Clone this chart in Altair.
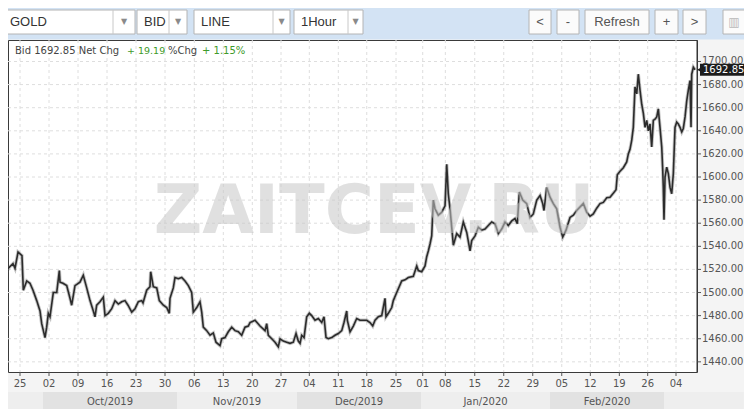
import altair as alt
import pandas as pd

# ---------------- data (trading-day index, bid price) ----------------
SEP_OCT_DAY = [-2.59, -2.41, -2.02, -1.21, -0.86, -0.34, 0.34, 0.57, 1.16, 1.72, 2.24, 2.88, 3.45, 3.74, 4.31,
               4.60, 4.88, 5.17, 5.74, 6.33, 6.78, 6.90, 7.41, 8.05, 8.62, 8.91, 9.48, 10.34, 10.91, 11.50,
               12.07, 12.64, 12.93, 13.22, 13.79, 14.36, 14.66, 15.22, 15.81, 16.38, 16.95, 17.53, 18.10,
               18.62, 19.26, 19.83, 20.40, 20.98, 21.21, 21.84, 22.41, 22.53, 22.98, 23.57, 24.02, 24.71,
               25.29, 25.74, 25.86, 26.43, 26.72]
SEP_OCT_BID = [1500, 1516, 1521, 1525, 1521, 1535, 1532, 1502, 1510, 1508, 1502, 1493, 1484, 1473, 1461,
               1470, 1482, 1479, 1500, 1500, 1519, 1509, 1508, 1506, 1495, 1489, 1506, 1509, 1515, 1504,
               1493, 1484, 1479, 1489, 1492, 1496, 1480, 1482, 1486, 1493, 1490, 1492, 1493,
               1489, 1483, 1486, 1492, 1493, 1491, 1502, 1505, 1518, 1505, 1504, 1493, 1489,
               1487, 1482, 1495, 1504, 1513]

NOV_DAY = [27.29, 27.88, 28.45, 29.02, 29.60, 29.88, 30.47, 31.03, 31.33, 31.60, 32.19, 32.76, 33.33, 33.79,
           34.48, 34.78, 35.34, 35.91, 36.50, 37.07, 37.64, 38.22, 38.79, 39.36, 39.66, 40.52, 41.38, 42.24,
           42.53, 42.81, 43.40, 43.97, 44.53, 44.83, 45.40, 45.98, 46.55, 47.12, 47.59]
NOV_BID = [1512, 1513, 1510, 1506, 1500, 1483, 1487, 1492, 1483, 1470, 1467, 1463, 1465, 1457,
           1454, 1460, 1461, 1466, 1470, 1467, 1466, 1463, 1470, 1471, 1474, 1476, 1471, 1467,
           1473, 1463, 1460, 1457, 1453, 1460, 1458, 1457, 1456, 1457, 1464.5]

DEC_DAY = [47.98, 48.28, 48.57, 48.97, 49.43, 49.88, 50.29, 50.86, 51.43, 52.02, 52.41, 52.76, 53.16, 53.74,
           54.31, 54.88, 55.47, 55.86, 56.33, 56.43, 56.90, 57.47, 58.05, 58.62, 59.19, 59.78, 60.34, 60.81,
           61.21, 61.78, 62.36, 62.93, 63.10, 63.50, 64.09, 64.36, 64.95, 65.81, 66.38, 66.95, 67.81, 68.40,
           68.67, 69.26, 69.83, 70.12, 70.40]
DEC_BID = [1458, 1456, 1463, 1461, 1479, 1482, 1480, 1476, 1477.5, 1474, 1479, 1461, 1460, 1461,
           1463, 1464.5, 1467, 1474, 1484, 1476, 1466, 1471, 1477.5, 1476, 1476, 1476, 1474, 1471,
           1476, 1479, 1480, 1495, 1479, 1482, 1487, 1493, 1500, 1510, 1511, 1513, 1514, 1523,
           1519, 1518, 1523, 1531, 1536]

JAN_DAY = [70.69, 70.98, 71.26, 71.55, 72.12, 72.71, 73.28, 73.57, 73.84, 74.14, 74.43, 74.71, 75.29, 75.86,
           76.43, 77.02, 77.59, 77.88, 78.45, 79.02, 79.60, 80.17, 80.74, 81.33, 81.90, 82.47, 83.05, 83.62,
           84.19, 84.78, 85.34, 85.74, 86.09, 86.67, 87.36, 87.93, 88.50, 89.09, 89.66, 90.12, 90.34, 90.81]
JAN_BID = [1542, 1549, 1580, 1572.5, 1567, 1569.5, 1575, 1611, 1585.5, 1572.5, 1556.5, 1541, 1551, 1548,
           1561, 1552, 1536, 1545, 1549, 1556.5, 1554, 1555, 1558, 1561, 1559.5, 1551, 1555, 1561,
           1558, 1562, 1564, 1559.5, 1587, 1580, 1577, 1565, 1568, 1580, 1584, 1577, 1571, 1591]

FEB_DAY = [91.38, 91.95, 92.53, 93.10, 93.57, 94.14, 94.83, 95.40, 95.98, 96.55, 97.12, 97.71, 98.28, 98.84,
           99.43, 100.00, 100.57, 101.16, 101.72, 102.29, 102.76, 102.98, 103.45, 104.02, 104.60, 104.88, 105.17]
FEB_BID = [1582.5, 1577, 1572.5, 1556.5, 1548, 1554, 1565, 1567, 1571, 1574, 1577, 1569.5, 1566, 1568,
           1573, 1577, 1578, 1582, 1582.5, 1586, 1589, 1602, 1605, 1608, 1613, 1620, 1624]

MAR_DAY = [105.47, 105.74, 106.03, 106.33, 106.60, 106.90, 107.19, 107.47, 107.76, 108.05, 108.33, 108.62,
           108.91, 109.19, 109.48, 109.78, 110.05, 110.34, 110.64, 110.81, 110.91, 111.03, 111.21, 111.50,
           111.78, 112.07, 112.36, 112.64, 112.93, 113.22, 113.50, 113.79, 114.09, 114.36, 114.66, 114.95,
           115.22, 115.52, 115.69, 115.81, 116.09, 116.38]
MAR_BID = [1632, 1643, 1678, 1672, 1689, 1675, 1663, 1655, 1643, 1649, 1640, 1646,
           1626, 1649, 1650, 1652, 1659, 1643, 1626, 1606, 1591, 1563, 1600, 1608.5,
           1603, 1591, 1585.5, 1603, 1643, 1647.5, 1646, 1643, 1639, 1642, 1652, 1666,
           1675, 1683.5, 1643, 1689, 1695, 1692.85]

TICK_DAY = [0, 5, 10, 15, 20, 25, 30.05, 35.05, 40.05, 45, 49.88, 54.88, 59.78, 64.83, 69.43, 73.33,
            78.4, 83.4, 88.4, 93.4, 98.33, 103.33, 108.22, 113.1]
TICK_LABEL = ["25", "02", "09", "16", "23", "30", "06", "13", "20", "27", "04", "11", "18", "25", "01", "08",
              "15", "22", "29", "05", "12", "19", "26", "04"]

MONTH_START = [-2.3, 3.97, 27.07, 47.76, 69.14, 91.38, 111.03]
MONTH_END = [3.97, 27.07, 47.76, 69.14, 91.38, 111.03, 124.8]
MONTH_LABEL = ["", "Oct/2019", "Nov/2019", "Dec/2019", "Jan/2020", "Feb/2020", ""]
MONTH_SHADE = ["light", "dark", "light", "dark", "light", "dark", "light"]

Y_TICKS = [1440, 1460, 1480, 1500, 1520, 1540, 1560, 1580, 1600, 1620, 1640, 1660, 1680, 1700]

LAST_BID = 1692.85
NET_CHG = 19.19
PCT_CHG = 1.15

# ---------------- frames ----------------
days = SEP_OCT_DAY + NOV_DAY + DEC_DAY + JAN_DAY + FEB_DAY + MAR_DAY
bids = SEP_OCT_BID + NOV_BID + DEC_BID + JAN_BID + FEB_BID + MAR_BID
df = pd.DataFrame({"day": days, "bid": bids})
months = pd.DataFrame({"start": MONTH_START, "end": MONTH_END, "label": MONTH_LABEL, "shade": MONTH_SHADE})
xticks = pd.DataFrame({"day": TICK_DAY, "label": TICK_LABEL})
yticks = pd.DataFrame({"bid": Y_TICKS})
last = pd.DataFrame({"bid": [LAST_BID]})
ONE = pd.DataFrame({"k": [0]})

W, H = 689, 332
xs = alt.Scale(domain=[-2.07, 116.72], nice=False, zero=False)
ys = alt.Scale(domain=[1431.2, 1718.6], nice=False, zero=False)

AX_FONT = "DejaVu Sans"
UI_FONT = "Liberation Sans"
GRID = "#dedede"
TICKC = "#555555"


def X(field):
    return alt.X(field, scale=xs, axis=None)


def Y(field):
    return alt.Y(field, scale=ys, axis=None)


# grid
xgrid = alt.Chart(xticks).mark_rule(color=GRID, strokeDash=[3, 3], strokeWidth=1).encode(
    x=X("day:Q"), y=alt.value(0), y2=alt.value(H))
ygrid = alt.Chart(yticks).mark_rule(color=GRID, strokeDash=[3, 3], strokeWidth=1).encode(
    y=Y("bid:Q"), x=alt.value(0), x2=alt.value(W))

# axis ticks and labels
xtick = alt.Chart(xticks).mark_rule(color=TICKC, strokeWidth=1).encode(
    x=X("day:Q"), y=alt.value(H), y2=alt.value(H + 4))
xlab = alt.Chart(xticks).mark_text(font=AX_FONT, fontSize=10, color=TICKC, baseline="middle").encode(
    x=X("day:Q"), y=alt.value(H + 12), text="label:N")
ytick = alt.Chart(yticks).mark_rule(color=TICKC, strokeWidth=1).encode(
    y=Y("bid:Q"), x=alt.value(W), x2=alt.value(W + 4))
ylab = alt.Chart(yticks).mark_text(font=AX_FONT, fontSize=10, color=TICKC, baseline="middle",
                                   align="left").encode(
    y=Y("bid:Q"), x=alt.value(W + 5), text=alt.Text("bid:Q", format=".2f"))
ydomain = alt.Chart(ONE).mark_rule(color="#333333", strokeWidth=1).encode(
    x=alt.value(W), y=alt.value(0), y2=alt.value(H))

# price line: soft halo + dark core to mimic the dense hourly trace
halo = alt.Chart(df).mark_line(color="#555555", strokeWidth=3.4, opacity=0.35, clip=True).encode(
    x=X("day:Q"), y=Y("bid:Q"))
line = alt.Chart(df).mark_line(color="#2b2b2b", strokeWidth=1.6, clip=True).encode(
    x=X("day:Q"), y=Y("bid:Q"))

watermark = alt.Chart(ONE).mark_text(
    text="ZAITCEV.RU", font="DejaVu Sans", fontWeight="bold", fontSize=67,
    color="#c8c8c8", opacity=0.55, align="center", baseline="alphabetic"
).encode(x=alt.value(366), y=alt.value(193))

bands = alt.Chart(months).mark_rect().encode(
    x=X("start:Q"), x2="end:Q",
    y=alt.value(H + 20), y2=alt.value(H + 38),
    color=alt.Color("shade:N", scale=alt.Scale(domain=["light", "dark"], range=["#eeeeee", "#e2e2e2"]),
                    legend=None),
)
band_text = alt.Chart(months).transform_filter("datum.label != ''").transform_calculate(
    mid="(datum.start + datum.end) / 2"
).mark_text(font=AX_FONT, fontSize=10, color="#555555", baseline="middle").encode(
    x=X("mid:Q"), y=alt.value(H + 30), text="label:N")

tag = alt.Chart(last).mark_rule(color="#1c1c1c", strokeWidth=12, strokeCap="butt").encode(
    x=alt.value(692), x2=alt.value(760), y=Y("bid:Q"))
tag_arrow = alt.Chart(last).mark_point(shape="triangle-left", filled=True, size=45, color="#1c1c1c",
                                        opacity=1).encode(x=alt.value(692), y=Y("bid:Q"))
tag_text = alt.Chart(last).mark_text(font=AX_FONT, fontSize=10, color="white", align="left",
                                     baseline="middle").encode(
    x=alt.value(695), y=Y("bid:Q"), text=alt.Text("bid:Q", format=".2f"))


def txt(s, x, y, size, color, font=AX_FONT, align="left"):
    return alt.Chart(ONE).mark_text(text=s, font=font, fontSize=size, color=color, align=align,
                                    baseline="middle").encode(x=alt.value(x), y=alt.value(y))


def box(x1, x2, y1, y2, fill, stroke):
    return alt.Chart(ONE).mark_rect(fill=fill, stroke=stroke, strokeWidth=1).encode(
        x=alt.value(x1), x2=alt.value(x2), y=alt.value(y1), y2=alt.value(y2))


def vline(x, y1, y2, color):
    return alt.Chart(ONE).mark_rule(color=color, strokeWidth=1).encode(
        x=alt.value(x), y=alt.value(y1), y2=alt.value(y2))


# info line in the plot
info = [
    txt(f"Bid {LAST_BID:.2f} Net Chg", 7, 11, 10, "#444444"),
    txt(f"+ {NET_CHG:.2f}", 119, 11, 9.5, "#3d9a2a"),
    txt("%Chg", 160, 11, 10, "#444444"),
    txt(f"+ {PCT_CHG:.2f}%", 194, 11, 10, "#3d9a2a"),
]

# toolbar
TOP, BOT, MID = -30, -6, -18
toolbar = [box(-10, 760, -40, -1, "#d3e3f4", "#d3e3f4")]
for name, x1, x2, dv in [("GOLD", -5, 127, 105), ("BID", 129, 179, 161), ("LINE", 186, 282, 265),
                         ("1Hour", 286, 355, 340)]:
    toolbar += [box(x1, x2, TOP, BOT, "#ffffff", "#b4b4b4"), vline(dv, TOP, BOT, "#c8c8c8"),
                txt(name, x1 + 7 if x1 > 0 else 2, MID, 13, "#333333", UI_FONT),
                txt("\u25bc", (dv + x2) / 2, MID, 8, "#8a8a8a", AX_FONT, "center")]
for lab, x1, x2 in [("<", 521, 543), ("-", 549, 571), ("Refresh", 577, 641), ("+", 647, 670), (">", 675, 698)]:
    toolbar += [box(x1, x2, TOP, BOT, "#fbfbfb", "#b4b4b4"),
                txt(lab, (x1 + x2) / 2, MID, 13, "#555555", UI_FONT, "center")]
toolbar += [box(715, 737, TOP, BOT, "#fbfbfb", "#b4b4b4"),
            txt("\u25a5", 726, MID, 12, "#b8b8b8", AX_FONT, "center")]

chart = alt.layer(
    xgrid, ygrid, halo, line, watermark, xtick, xlab, ytick, ylab, ydomain, bands, band_text,
    tag, tag_arrow, tag_text, *info, *toolbar
).properties(
    width=W, height=H,
    autosize=alt.AutoSizeParams(type="none"),
    padding={"left": 0, "top": 32, "right": 47, "bottom": 37},
    background="#f4f4f4",
).configure_view(stroke="#3a3a3a", strokeWidth=1, fill="white")

chart.save("out.html", embed_options={"renderer": "svg", "actions": False})
